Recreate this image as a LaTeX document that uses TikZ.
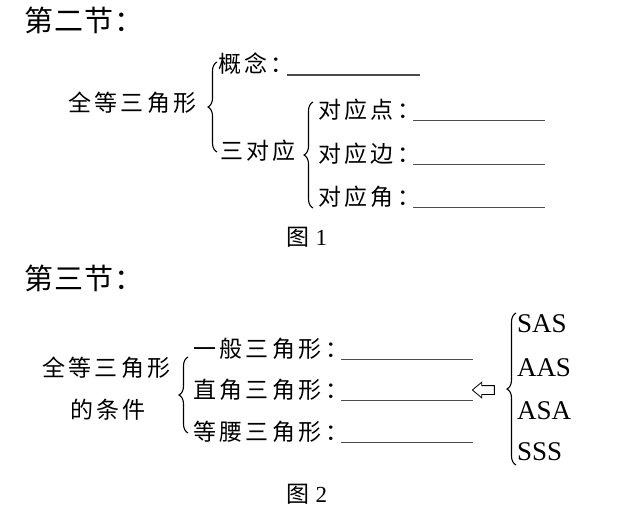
\documentclass[tikz,border=0pt]{standalone}
\usepackage{fontspec}
\setmainfont{Liberation Serif}
\newfontfamily\cjk[LetterSpace=15]{Noto Sans CJK SC}
\newfontfamily\cjkhead[LetterSpace=4]{Noto Sans CJK SC}
\usetikzlibrary{positioning,decorations.pathreplacing,shapes.arrows}

\begin{document}
\begin{tikzpicture}[x=1pt, y=-1pt,
    every node/.style={inner sep=0pt, outer sep=0pt},
    head/.style={anchor=west, font=\fontsize{29}{32}\selectfont\cjkhead},
    item/.style={anchor=west, font=\fontsize{23}{26}\selectfont\cjk},
    caption/.style={font=\fontsize{23}{26}\selectfont},
    abc/.style={anchor=west, font=\fontsize{27}{30}\selectfont},
    blank/.style={draw=black!70, line width=1.2pt},
    bracemark/.style={decorate, decoration={brace, amplitude=9pt}, line width=1.1pt}]
    \useasboundingbox (0,0) rectangle (621,514);

    % figure 1
    \node[head] (sec2) at (24,20) {第二节：};
    \node[item] (qd1) at (68,103) {全等三角形};
    \node[item] (gn) at (218,64) {概念：};
    \node[item] (sdy) at (220,151) {三对应};
    \node[item] (ddd) at (318,110) {对应点：};
    \node[item] (ddb) at (318,154) {对应边：};
    \node[item] (ddj) at (318,197) {对应角：};
    \node[caption] (fig1) at (307,237) {{\cjk 图} 1};

    \coordinate (b1top) at (217,62);
    \coordinate (b1bot) at (217,152);
    \coordinate (b2top) at (313,102);
    \coordinate (b2bot) at (313,208);
    \draw[bracemark] (b1bot) -- (b1top);
    \draw[bracemark] (b2bot) -- (b2top);

    \draw[blank] ([xshift=-7pt, yshift=-2pt]gn.base east) -- ++(133,0);
    \draw[blank] ([xshift=-7pt, yshift=-2pt]ddd.base east) -- ++(132,0);
    \draw[blank] ([xshift=-7pt, yshift=-2pt]ddb.base east) -- ++(132,0);
    \draw[blank] ([xshift=-7pt, yshift=-2pt]ddj.base east) -- ++(132,0);

    % figure 2
    \node[head] (sec3) at (24,278) {第三节：};
    \node[item] (qd2) at (42,368) {全等三角形};
    \node[item] (tj) at (70,410) {的条件};
    \node[item] (ybs) at (193,349) {一般三角形：};
    \node[item] (zjs) at (193,390) {直角三角形：};
    \node[item] (dys) at (193,432) {等腰三角形：};
    \node[caption] (fig2) at (307,494) {{\cjk 图} 2};

    \coordinate (b3top) at (188,357);
    \coordinate (b3bot) at (188,433);
    \draw[bracemark] (b3bot) -- (b3top);

    \draw[blank] ([xshift=-7pt, yshift=-2pt]ybs.base east) -- ++(132,0);
    \draw[blank] ([xshift=-7pt, yshift=-2pt]zjs.base east) -- ++(132,0);
    \draw[blank] ([xshift=-7pt, yshift=-2pt]dys.base east) -- ++(132,0);

    \node[draw, single arrow, shape border rotate=180, inner ysep=4pt,
      minimum height=22pt, single arrow head extend=3.5pt,
      single arrow tip angle=80, line width=0.8pt] (imp) at (486,390) {};

    \coordinate (b4top) at (516,313);
    \coordinate (b4bot) at (516,465);
    \draw[bracemark] (b4bot) -- (b4top);

    \node[abc] (sas) at (517,324) {SAS};
    \node[abc] (aas) at (517,368) {AAS};
    \node[abc] (asa) at (517,411) {ASA};
    \node[abc] (sss) at (517,452) {SSS};
  \end{tikzpicture}
\end{document}
